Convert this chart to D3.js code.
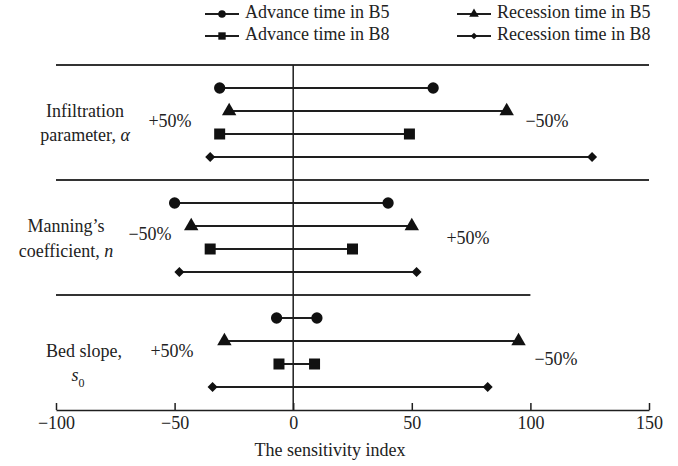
<!DOCTYPE html>
<html>
<head>
<meta charset="utf-8">
<script src="https://cdn.jsdelivr.net/npm/d3@7"></script>
<style>
  body { margin: 0; background: #fff; }
  svg text { font-family: "Liberation Serif", "Times New Roman", serif; fill: #222; }
</style>
</head>
<body>
<div id="chart"></div>
<script>
// series (one row each inside every parameter group)
var series = ["Advance time in B5", "Recession time in B5", "Advance time in B8", "Recession time in B8"];
var symbols = [d3.symbolCircle, d3.symbolTriangle, d3.symbolSquare, d3.symbolSquare];

// parameter groups
var groups = ["alpha", "n", "s0"];
// sensitivity index at the two ends of each bar, per group, per series
var lowAlpha = [-31, -27, -31, -35];
var highAlpha = [59, 90, 49, 126];
var lowN = [-50, -43, -35, -48];
var highN = [40, 50, 25, 52];
var lowS0 = [-7, -29, -6, -34];
var highS0 = [10, 95, 9, 82];
// which side the +50% / -50% change lands on
var leftTag = ["+50%", "\u221250%", "+50%"];
var rightTag = ["\u221250%", "+50%", "\u221250%"];

var xTicks = [-100, -50, 0, 50, 100, 150];

var width = 678, height = 466;
var ink = "#1e1e1e";

var lows = [lowAlpha, lowN, lowS0];
var highs = [highAlpha, highN, highS0];

var svg = d3.select("#chart").append("svg")
  .attr("width", width)
  .attr("height", height);

var x = d3.scaleLinear().domain([-100, 150]).range([56, 649]);
// 5 slots per group: separator + 4 rows, axis at slot 15
var y = d3.scaleLinear().domain([0, 15]).range([65, 410]);

// group separators
var sepEnd = [150, 150, 100];
groups.forEach(function(g, gi) {
  svg.append("line")
    .attr("x1", x(-100)).attr("x2", x(sepEnd[gi]))
    .attr("y1", y(gi * 5)).attr("y2", y(gi * 5))
    .attr("stroke", "#333").attr("stroke-width", 2);
});

// zero line
svg.append("line")
  .attr("x1", x(0)).attr("x2", x(0))
  .attr("y1", y(0)).attr("y2", y(15))
  .attr("stroke", ink).attr("stroke-width", 1.5);

// axis
var axis = svg.append("g")
  .attr("transform", "translate(0," + y(15) + ")")
  .call(d3.axisBottom(x).tickValues(xTicks).tickSizeInner(-7).tickSizeOuter(0).tickPadding(6)
    .tickFormat(function(d) { return d < 0 ? "\u2212" + Math.abs(d) : d; }));
axis.select(".domain").attr("stroke", ink).attr("stroke-width", 1.5);
axis.selectAll(".tick line").attr("stroke", ink).attr("stroke-width", 1.5);
axis.selectAll(".tick text")
  .style("font-family", "'Liberation Serif', 'Times New Roman', serif")
  .style("font-size", "18px").attr("fill", "#222");

svg.append("text")
  .attr("x", 330).attr("y", 456)
  .attr("text-anchor", "middle")
  .style("font-size", "18px")
  .text("The sensitivity index");

// bars
groups.forEach(function(g, gi) {
  var rows = series.map(function(s, si) {
    return {s: s, si: si, lo: lows[gi][si], hi: highs[gi][si], row: gi * 5 + si + 1};
  });
  var gg = svg.append("g").attr("class", "group-" + g);
  gg.selectAll("line.bar").data(rows).enter().append("line")
    .attr("class", "bar")
    .attr("x1", function(d) { return x(d.lo); })
    .attr("x2", function(d) { return x(d.hi); })
    .attr("y1", function(d) { return y(d.row); })
    .attr("y2", function(d) { return y(d.row); })
    .attr("stroke", ink).attr("stroke-width", 1.8);

  rows.forEach(function(d) {
    [d.lo, d.hi].forEach(function(v) {
      gg.append("path")
        .attr("d", markerPath(d.si, 1))
        .attr("transform", "translate(" + x(v) + "," + y(d.row) + ")" + (d.si === 3 ? " rotate(45)" : ""))
        .attr("fill", "#111");
    });
  });
});

function markerPath(si, k) {
  var sizes = [100, 90, 121, 50];
  return d3.symbol().type(symbols[si]).size(sizes[si] * k)();
}

// +/-50% tags
var tagLeftPos = [[170, 123], [150, 236], [172, 353]];
var tagRightPos = [[547, 123], [468, 240], [556, 361]];
groups.forEach(function(g, gi) {
  svg.append("text").attr("x", tagLeftPos[gi][0]).attr("y", tagLeftPos[gi][1])
    .attr("text-anchor", "middle").attr("dominant-baseline", "middle")
    .style("font-size", "18px").text(leftTag[gi]);
  svg.append("text").attr("x", tagRightPos[gi][0]).attr("y", tagRightPos[gi][1])
    .attr("text-anchor", "middle").attr("dominant-baseline", "middle")
    .style("font-size", "18px").text(rightTag[gi]);
});

// group names
function label(cx, cy, parts) {
  var t = svg.append("text").attr("x", cx).attr("y", cy)
    .attr("text-anchor", "middle").attr("dominant-baseline", "middle")
    .style("font-size", "18px");
  parts.forEach(function(p) {
    var ts = t.append("tspan").text(p.t);
    if (p.i) ts.style("font-style", "italic");
    if (p.sub) ts.attr("baseline-shift", "sub").style("font-size", "12px").style("font-style", "normal");
  });
}
label(85, 113, [{t: "Infiltration"}]);
label(85, 137, [{t: "parameter, "}, {t: "\u03b1", i: true}]);
label(66, 228, [{t: "Manning\u2019s"}]);
label(66, 253, [{t: "coefficient, "}, {t: "n", i: true}]);
label(84, 353, [{t: "Bed slope,"}]);
label(78, 377, [{t: "s", i: true}, {t: "0", sub: true}]);

// legend
var legendPos = [[205, 14], [457, 14], [205, 36], [457, 36]];
series.forEach(function(s, si) {
  var lx = legendPos[si][0], ly = legendPos[si][1];
  var lg = svg.append("g").attr("class", "legend");
  lg.append("line").attr("x1", lx).attr("x2", lx + 34).attr("y1", ly).attr("y2", ly)
    .attr("stroke", ink).attr("stroke-width", 1.8);
  lg.append("path").attr("d", markerPath(si, 0.45))
    .attr("transform", "translate(" + (lx + 17) + "," + ly + ")" + (si === 3 ? " rotate(45)" : ""))
    .attr("fill", "#111");
  lg.append("text").attr("x", lx + 40).attr("y", ly)
    .attr("dominant-baseline", "middle")
    .style("font-size", "18px").text(s);
});
</script>
</body>
</html>
